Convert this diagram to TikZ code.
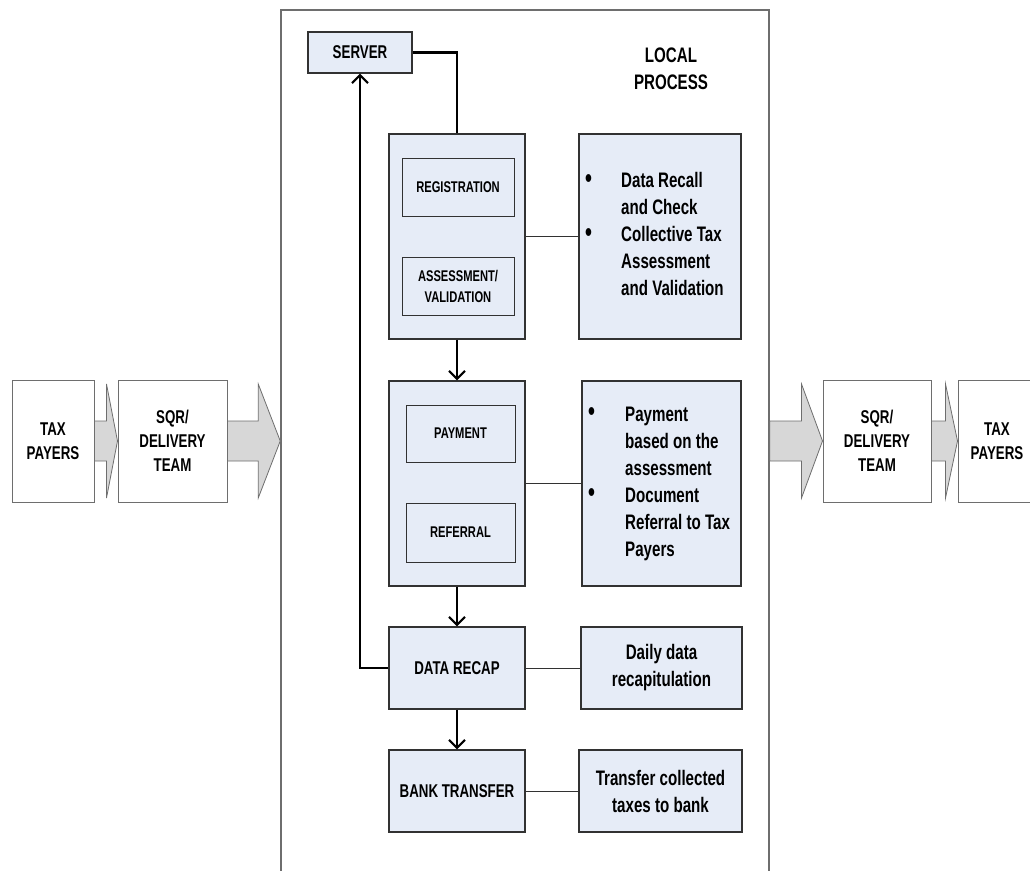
\documentclass[tikz,border=0pt]{standalone}
\usepackage{fontspec}
\setmainfont{Liberation Sans}[FakeStretch=0.72]
\usetikzlibrary{arrows.meta,calc}

\definecolor{boxfill}{RGB}{230,236,247}
\definecolor{boxline}{RGB}{50,50,50}
\definecolor{framegray}{RGB}{110,110,110}
\definecolor{arrowfill}{RGB}{215,215,215}

% rectangle node given by its corners (x1,y1) and (x2,y2)
\newcommand\rectnode[7]{%
  \pgfmathsetmacro\rnx{(#3+#5)/2}\pgfmathsetmacro\rny{(#4+#6)/2}%
  \pgfmathsetmacro\rnw{#5-#3}\pgfmathsetmacro\rnh{#6-#4}%
  \node[#2, minimum width=\rnw pt, minimum height=\rnh pt] (#1) at (\rnx,\rny) {#7};}

% wide grey block arrow from one node to the next, centred on a third node
\newcommand\blockarrow[4]{%
  \draw[blockar] let \p1=(#1.east), \p2=(#2.west), \p3=(#3.center) in
    (\x1,\y3+20pt) -- (\x2-#4,\y3+20pt) -- (\x2-#4,\y3+57pt) -- (\x2,\y3)
    -- (\x2-#4,\y3-57pt) -- (\x2-#4,\y3-20pt) -- (\x1,\y3-20pt) -- cycle;}

% list bullet, slightly enlarged
\newcommand\itembullet{\raisebox{0.5pt}{\scalebox{1.3}{\textbullet}}}

\begin{document}
\begin{tikzpicture}[x=1pt,y=-1pt,
  procbox/.style={draw=boxline, line width=1.4pt, fill=boxfill, inner sep=0pt, align=center,
    font=\fontsize{18.5}{24}\selectfont\bfseries},
  subbox/.style={draw=boxline, line width=0.9pt, fill=boxfill, inner sep=0pt, align=center,
    font=\fontsize{15.5}{21}\selectfont\bfseries},
  sidebox/.style={procbox, font=\fontsize{21}{27}\selectfont\bfseries},
  whitebox/.style={draw=framegray, line width=1pt, fill=white, inner sep=0pt, align=center,
    font=\fontsize{18.5}{24}\selectfont\bfseries},
  framebox/.style={draw=framegray, line width=1.5pt, inner sep=0pt},
  bullets/.style={inner sep=0pt, anchor=west, font=\fontsize{21}{27}\selectfont\bfseries},
  thickline/.style={line width=2.6pt, black},
  flow/.style={line width=2.4pt, black, -{Straight Barb[length=8pt,width=16pt,line width=2pt]}},
  link/.style={line width=1pt, boxline},
  blockar/.style={draw=framegray, line width=0.8pt, fill=arrowfill},
]
\clip (0,0) rectangle (1030,870);

% local process frame (open at the bottom)
\rectnode{frame}{framebox}{281}{10}{769}{900}{}
\node[font=\fontsize{21}{27}\selectfont\bfseries, align=center] (title) at (671,68.5) {LOCAL\\PROCESS};

% server
\rectnode{srv}{procbox}{308}{32}{412}{73}{SERVER}

% registration / assessment group
\rectnode{g1}{procbox}{389}{134}{525}{339}{}
\rectnode{reg}{subbox}{402}{158}{514}{216}{REGISTRATION}
\rectnode{ass}{subbox}{402}{257}{514}{315}{ASSESSMENT/\\VALIDATION}
\rectnode{s1}{sidebox}{579}{134}{741}{339}{}
\node[bullets] (t1) at (585,236.5) {\begin{tabular}{@{}p{36pt}@{}l@{}}
  \itembullet & Data Recall\\
              & and Check\\
  \itembullet & Collective Tax\\
              & Assessment\\
              & and Validation
\end{tabular}};

% payment / referral group
\rectnode{g2}{procbox}{389}{381}{525}{586}{}
\rectnode{pay}{subbox}{406}{405}{515}{462}{PAYMENT}
\rectnode{ref}{subbox}{406}{503}{515}{562}{REFERRAL}
\rectnode{s2}{sidebox}{582}{381}{741}{586}{}
\node[bullets] (t2) at (588,483.5) {\begin{tabular}{@{}p{37pt}@{}l@{}}
  \itembullet & Payment\\
              & based on the\\
              & assessment\\
  \itembullet & Document\\
              & Referral to Tax\\
              & Payers
\end{tabular}};

% data recap and bank transfer
\rectnode{dr}{procbox}{389}{627}{525}{709}{DATA RECAP}
\rectnode{s3}{sidebox}{581}{627}{742}{709}{Daily data\\recapitulation}
\rectnode{bt}{procbox}{389}{750}{525}{832}{BANK TRANSFER}
\rectnode{s4}{sidebox}{579}{750}{742}{832}{Transfer collected\\taxes to bank}

% outer chain
\rectnode{tpL}{whitebox}{12}{380}{94}{502}{TAX\\PAYERS}
\rectnode{sqL}{whitebox}{118}{380}{227}{502}{SQR/\\DELIVERY\\TEAM}
\rectnode{sqR}{whitebox}{823}{380}{931}{502}{SQR/\\DELIVERY\\TEAM}
\rectnode{tpR}{whitebox}{958}{380}{1036}{502}{TAX\\PAYERS}

\blockarrow{tpL}{sqL}{sqL}{11pt}
\blockarrow{sqL}{frame}{sqL}{22pt}
\blockarrow{frame}{sqR}{sqR}{21pt}
\blockarrow{sqR}{tpR}{sqR}{12pt}

% process flow
\draw[thickline] (srv.east) -| (g1.north);
\draw[flow] (g1.south) -- (g2.north);
\draw[flow] (g2.south) -- (dr.north);
\draw[flow] (dr.south) -- (bt.north);
\draw[flow, line width=2.8pt] (dr.west) -| (srv.south);

% links to descriptions
\draw[link] (g1.east |- s1.west) -- (s1.west);
\draw[link] (g2.east |- s2.west) -- (s2.west);
\draw[link] (dr.east) -- (s3.west);
\draw[link] (bt.east) -- (s4.west);
\end{tikzpicture}
\end{document}
